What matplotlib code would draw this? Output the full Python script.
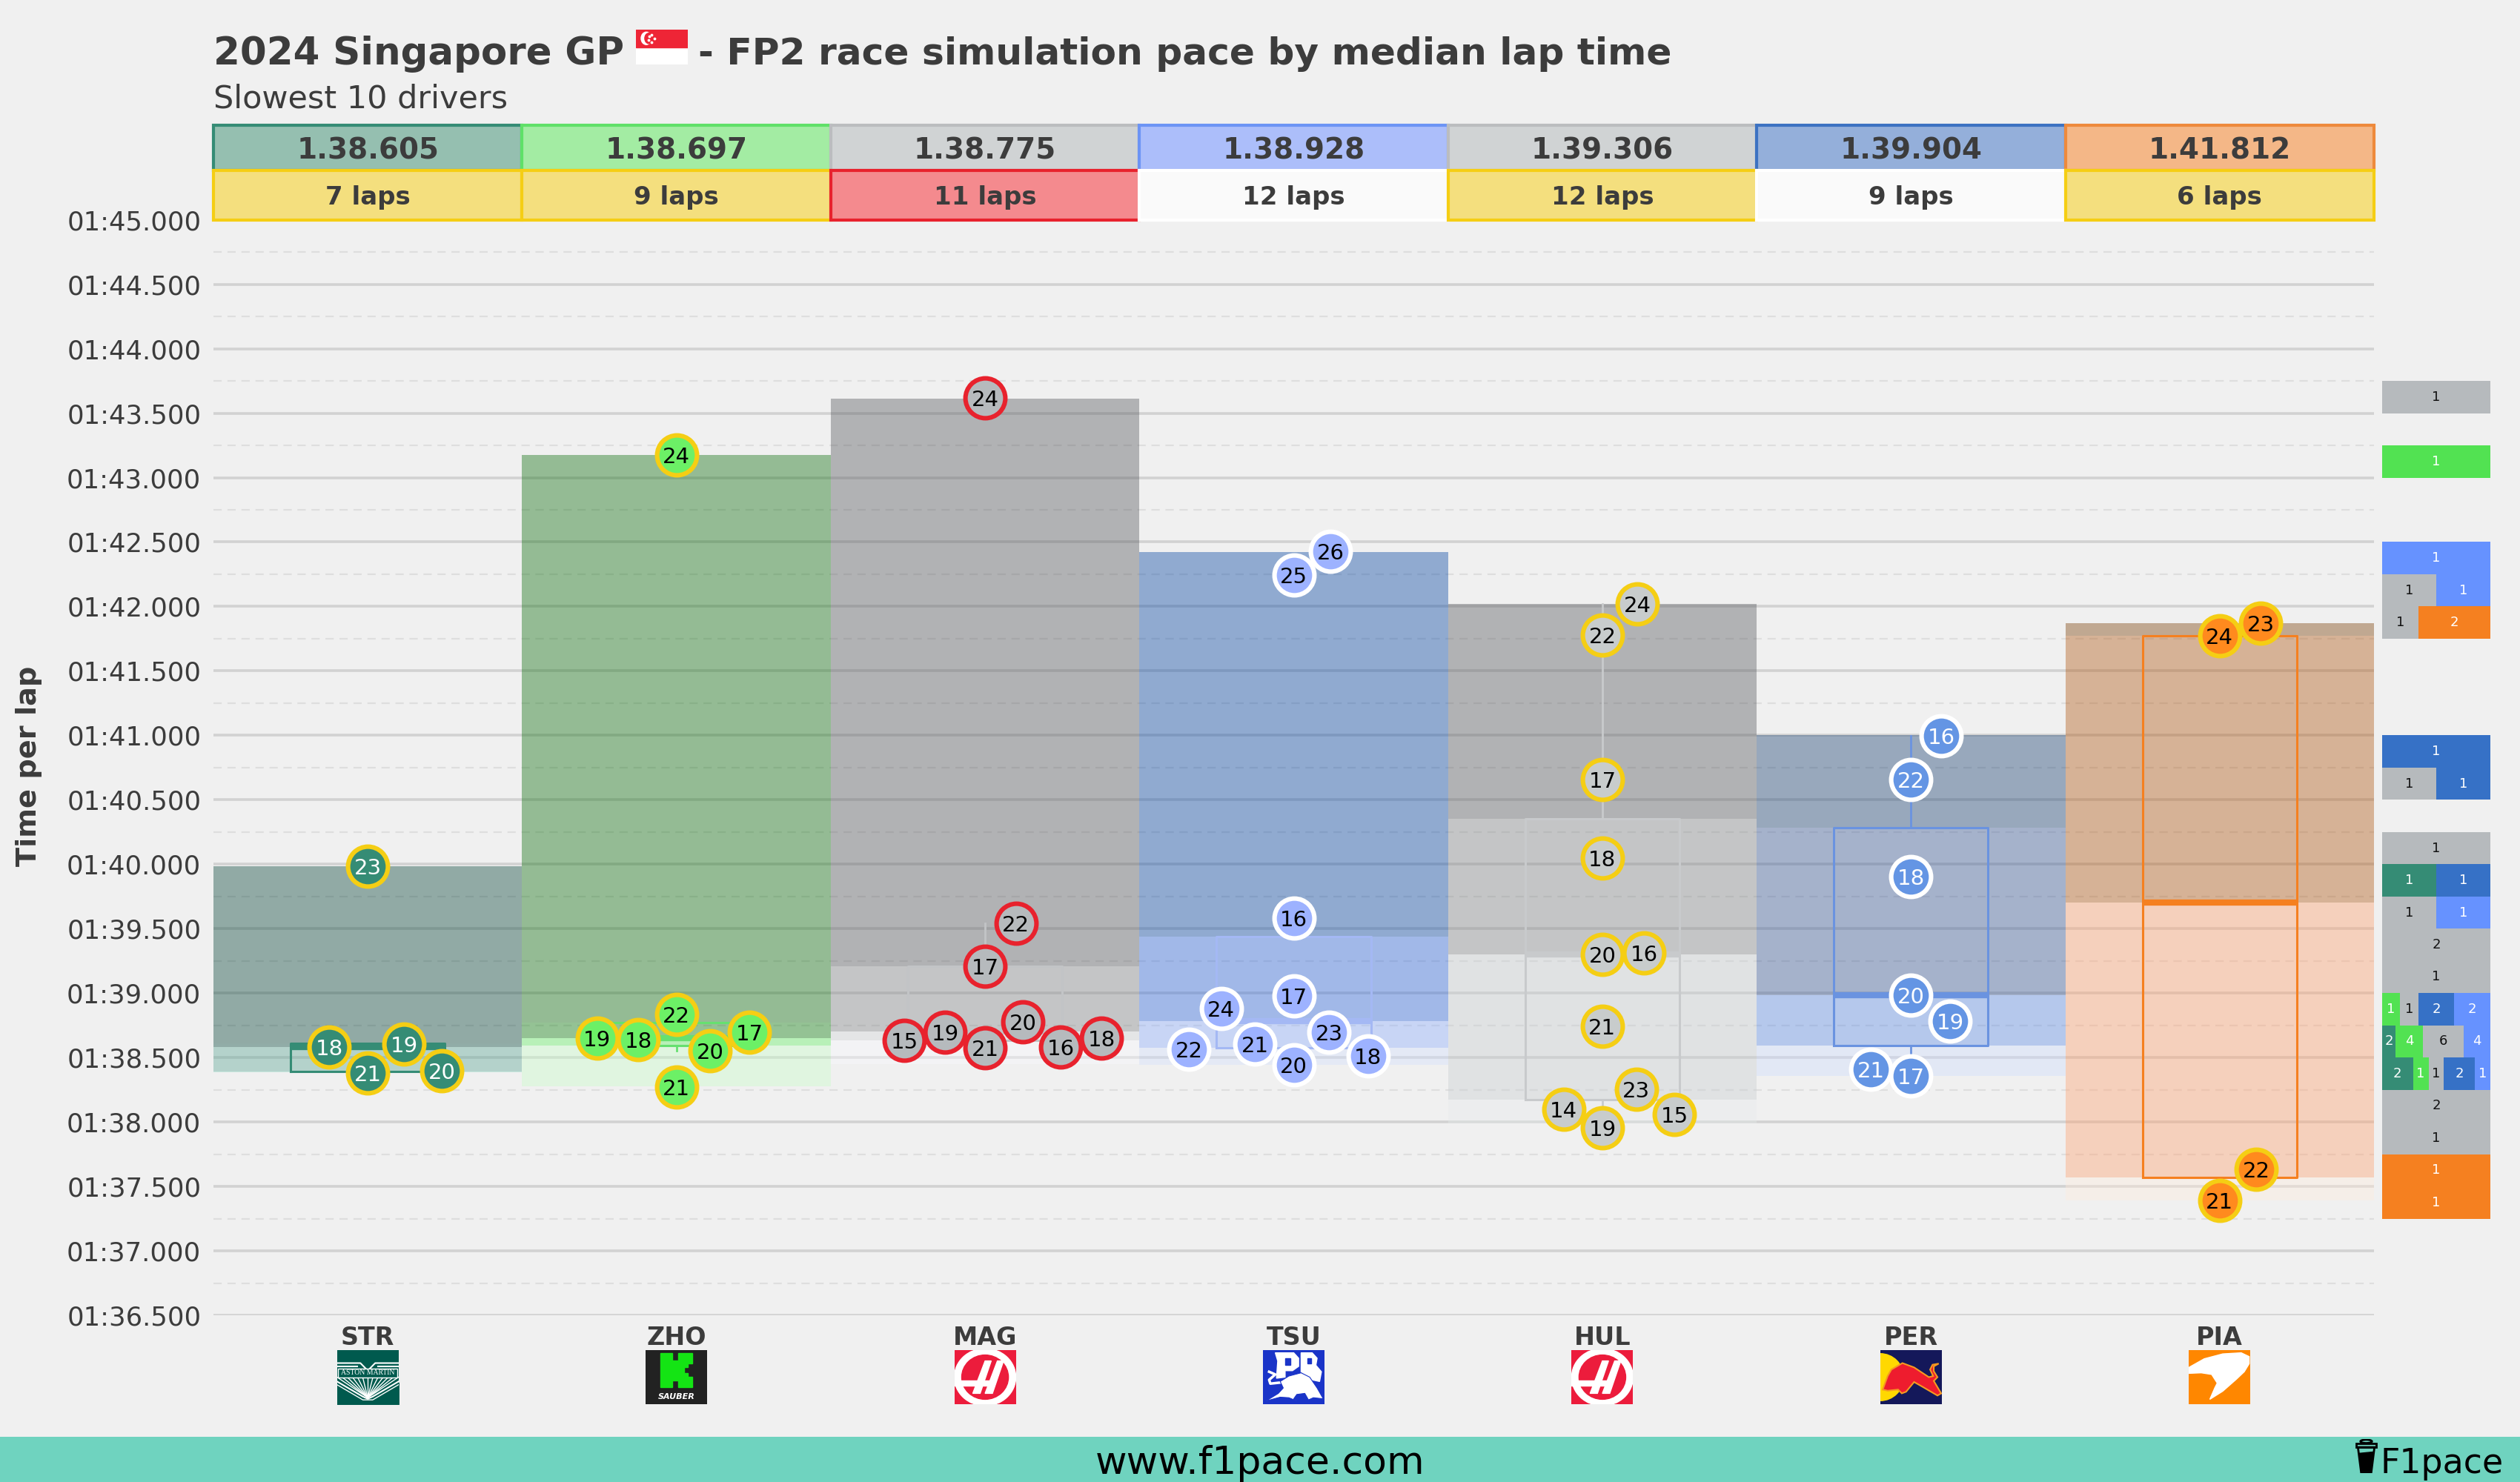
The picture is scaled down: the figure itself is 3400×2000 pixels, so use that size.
import matplotlib
matplotlib.use('Agg')
import matplotlib.pyplot as plt
import numpy as np
from matplotlib.patches import Ellipse, Polygon, Rectangle

drivers = ['STR', 'ZHO', 'MAG', 'TSU', 'HUL', 'PER', 'PIA']
teams = ['aston', 'sauber', 'haas', 'rb', 'haas', 'redbull', 'mclaren']
median_labels = ['1.38.605', '1.38.697', '1.38.775', '1.38.928', '1.39.306', '1.39.904', '1.41.812']
lap_counts = [7, 9, 11, 12, 12, 9, 6]
tyres = ['medium', 'medium', 'soft', 'hard', 'medium', 'hard', 'medium']

# lap number, lap time and swarm offset of every point per driver
lap_numbers = [
    [18, 19, 20, 21, 23],
    [17, 18, 19, 20, 21, 22, 24],
    [15, 16, 17, 18, 19, 20, 21, 22, 24],
    [16, 17, 18, 20, 21, 22, 23, 24, 25, 26],
    [14, 15, 16, 17, 18, 19, 20, 21, 22, 23, 24],
    [16, 17, 18, 19, 20, 21, 22],
    [21, 22, 23, 24],
]
lap_times = [
    [98.579, 98.605, 98.397, 98.383, 99.985],
    [98.698, 98.637, 98.649, 98.555, 98.272, 98.835, 103.178],
    [98.635, 98.579, 99.21, 98.65, 98.698, 98.777, 98.575, 99.543, 103.62],
    [99.583, 98.978, 98.514, 98.442, 98.603, 98.567, 98.696, 98.879, 102.244, 102.43],
    [98.10, 98.058, 99.313, 100.66, 100.047, 97.956, 99.301, 98.744, 101.78, 98.252, 102.018],
    [100.996, 98.357, 99.906, 98.785, 98.986, 98.407, 100.66],
    [97.394, 97.63, 101.87, 101.77],
]
lap_offsets = [
    [-0.125, 0.118, 0.24, 0, 0],
    [0.237, -0.123, -0.257, 0.11, 0, 0, 0],
    [-0.261, 0.245, 0, 0.378, -0.13, 0.123, 0, 0.10, 0],
    [0, 0, 0.241, 0, -0.125, -0.34, 0.115, -0.235, 0, 0.119],
    [-0.125, 0.233, 0.135, 0, 0, 0, 0, 0, 0, 0.11, 0.114],
    [0.098, 0, 0, 0.127, 0, -0.13, 0],
    [0, 0.119, 0.133, 0],
]

range_high = [99.985, 103.178, 103.614, 102.42, 102.02, 101.0, 101.87]
q3 = [98.609, 98.77, 99.21, 99.436, 100.354, 100.283, 101.77]
box_median = [98.58, 98.649, 98.70, 98.785, 99.299, 98.986, 99.70]
q1 = [98.393, 98.595, 98.633, 98.575, 98.175, 98.595, 97.57]
range_low = [98.385, 98.274, 98.448, 98.442, 97.99, 98.357, 97.39]
whisker_high = [98.609, 98.835, 99.543, 99.583, 102.018, 100.996, 101.87]
whisker_low = [98.383, 98.555, 98.575, 98.442, 97.956, 98.357, 97.394]

# histogram on the right: low edge of each 0.25s bin and laps per team
hist_bins = [103.5, 103.0, 102.25, 102.0, 101.75, 100.75, 100.5, 100.0, 99.75, 99.5,
             99.25, 99.0, 98.75, 98.5, 98.25, 98.0, 97.75, 97.5, 97.25]
hist_stacks = [
    [('haas', 1)],
    [('sauber', 1)],
    [('rb', 1)],
    [('haas', 1), ('rb', 1)],
    [('haas', 1), ('mclaren', 2)],
    [('redbull', 1)],
    [('haas', 1), ('redbull', 1)],
    [('haas', 1)],
    [('aston', 1), ('redbull', 1)],
    [('haas', 1), ('rb', 1)],
    [('haas', 2)],
    [('haas', 1)],
    [('sauber', 1), ('haas', 1), ('redbull', 2), ('rb', 2)],
    [('aston', 2), ('sauber', 4), ('haas', 6), ('rb', 4)],
    [('aston', 2), ('sauber', 1), ('haas', 1), ('redbull', 2), ('rb', 1)],
    [('haas', 2)],
    [('haas', 1)],
    [('mclaren', 1)],
    [('mclaren', 1)],
]

BG = '#F0F0F0'
TEXT = '#3C3C3C'
team_colors = {'aston': '#358C75', 'sauber': '#52E252', 'haas': '#B6BABD', 'rb': '#6692FF',
               'redbull': '#3671C6', 'mclaren': '#F58020'}
header_fill = ['#95BFB0', '#A3ECA3', '#D0D3D4', '#ACBEFA', '#D0D3D4', '#94AFDA', '#F4B787']
header_edge = ['#358C75', '#5FE068', '#BBBDBF', '#6C94F5', '#BBBDBF', '#3C72C2', '#EE8A3C']
tyre_fill = {'medium': '#F4DF7E', 'soft': '#F48A8E', 'hard': '#FAFAFA'}
tyre_edge = {'medium': '#F5CE14', 'soft': '#E8222D', 'hard': '#FFFFFF'}
point_fill = ['#358C75', '#6CF066', '#B6BABD', '#9DB2FF', '#C8CCCC', '#6495E4', '#FF8A1E']
point_text = ['white', 'black', 'black', 'black', 'black', 'white', 'black']
box_color = ['#358C75', '#66E070', '#C2C4C6', '#A4B8F4', '#C8CACC', '#6A93E0', '#F58020']
# colours the bands show over the background, from slowest band to fastest
band_colors = [
    [(145, 170, 165), (145, 172, 167), (180, 210, 203), (200, 230, 222)],
    [(148, 187, 148), (148, 194, 148), (184, 240, 184), (224, 245, 224)],
    [(177, 178, 180), (196, 197, 198), (228, 229, 230), (243, 244, 245)],
    [(143, 170, 208), (161, 184, 232), (200, 213, 245), (228, 233, 250)],
    [(177, 178, 180), (196, 197, 198), (224, 226, 227), (236, 237, 238)],
    [(152, 168, 188), (165, 178, 203), (181, 200, 236), (226, 232, 246)],
    [(192, 168, 145), (214, 178, 150), (246, 208, 188), (249, 238, 232)],
]


def band_rgba(rgb, alpha=0.4):
    # colour that gives rgb over the background at this alpha, so gridlines show through
    c = [min(max((v - (1 - alpha) * 240) / alpha / 255, 0), 1) for v in rgb]
    return (c[0], c[1], c[2], alpha)


def inset(x0, y0, x1, y1):
    a = fig.add_axes([x0 / 3400, 1 - y1 / 2000, (x1 - x0) / 3400, (y1 - y0) / 2000])
    a.set_xlim(0, 1)
    a.set_ylim(0, 1)
    a.axis('off')
    return a


def draw_logo(a, team):
    a.add_patch(Rectangle((0, 0), 1, 1, color={'aston': '#005A4E', 'sauber': '#222222', 'haas': '#EC1C3C',
                                                'rb': '#1A34C8', 'redbull': '#14185A', 'mclaren': '#FF8700'}[team]))
    if team == 'aston':
        a.plot([0, .38, .5, .62, 1], [.76, .76, .62, .76, .76], color='white', lw=1.5)
        a.plot([0, .33], [.7, .7], color='white', lw=1.5)
        a.plot([.67, 1], [.7, .7], color='white', lw=1.5)
        a.add_patch(Rectangle((.02, .5), .96, .16, facecolor='#005A4E', edgecolor='white', lw=1, zorder=3))
        a.text(.5, .58, 'ASTON MARTIN', color='white', fontsize=7, family='Liberation Serif', ha='center',
               va='center', zorder=4)
        for sx in np.linspace(0, 1, 13):
            a.plot([.5, sx], [.12, .5], color='white', lw=1)
        a.fill_between([0, .42, .58, 1], [0, 0, 0, 0], [.4, .1, .1, .4], color='#005A4E', zorder=2)
        a.plot([0, .42, .5, .58, 1], [.42, .14, .1, .14, .42], color='white', lw=1.5, zorder=3)
        a.plot([0, .42, .58, 1], [.36, .08, .08, .36], color='white', lw=1, zorder=3)
    elif team == 'sauber':
        a.add_patch(Polygon([(.245, .94), (.426, .94), (.426, .807), (.526, .807), (.526, .94), (.755, .94),
                             (.755, .748), (.687, .748), (.687, .688), (.627, .688), (.627, .578), (.687, .578),
                             (.687, .505), (.755, .505), (.755, .312), (.526, .312), (.526, .44), (.426, .44),
                             (.426, .312), (.245, .312)], color='#14E414'))
        a.text(.5, .14, 'SAUBER', color='white', fontsize=8, style='italic', fontweight='bold', ha='center',
               va='center')
    elif team == 'haas':
        a.add_patch(Ellipse((.5, .5), 1.0, 1.06, color='white'))
        a.add_patch(Ellipse((.5, .5), .76, .82, color='#EC1C3C'))
        a.add_patch(Polygon([(.3, .2), (.42, .2), (.6, .8), (.5, .8)], color='white'))
        a.add_patch(Polygon([(.5, .2), (.62, .2), (.8, .8), (.7, .8)], color='white'))
        a.add_patch(Rectangle((0, .34), .62, .1, color='white'))
    elif team == 'rb':
        a.add_patch(Polygon([(.2, .95), (.5, .95), (.58, .85), (.58, .7), (.48, .62), (.36, .62), (.36, .5),
                             (.22, .48), (.24, .8)], color='white'))
        a.add_patch(Polygon([(.36, .85), (.44, .85), (.44, .72), (.36, .72)], color='#1A34C8'))
        a.add_patch(Polygon([(.62, .95), (.8, .95), (.88, .85), (.86, .72), (.95, .6), (.92, .42), (.8, .45),
                             (.62, .6)], color='white'))
        a.add_patch(Polygon([(.72, .85), (.78, .85), (.78, .75), (.72, .75)], color='#1A34C8'))
        a.add_patch(Polygon([(.05, .06), (.25, .2), (.33, .3), (.28, .42), (.42, .52), (.62, .58), (.76, .5),
                             (.88, .3), (.98, .1), (.82, .12), (.74, .08), (.68, .2), (.55, .18), (.5, .1),
                             (.55, .06), (.42, .12), (.28, .13)], facecolor='white', edgecolor='#1A34C8',
                            lw=.8, zorder=3))
        a.plot([.1, .2, .1, .12, .28], [.6, .55, .45, .38, .4], color='white', lw=2.5)
    elif team == 'redbull':
        a.add_patch(Ellipse((0, .5), .76, .87, color='#FFD800'))
        a.add_patch(Polygon([(.04, .27), (.12, .52), (.18, .64), (.36, .76), (.55, .68), (.79, .5), (.86, .52),
                             (.81, .64), (.85, .73), (.95, .75), (.87, .7), (.87, .61), (.93, .5), (.87, .43),
                             (.99, .2), (.93, .16), (.69, .32), (.55, .41), (.42, .23), (.35, .2), (.29, .27),
                             (.12, .25)], facecolor='#EE1C2E', edgecolor='#F59A20', lw=1.5))
    else:
        a.add_patch(Polygon([(0, .68), (.25, .84), (.55, .93), (.85, .95), (.98, .88), (.98, .75), (.9, .6),
                             (.77, .46), (.55, .24), (.34, .09), (.42, .3), (.46, .39), (.37, .55), (.2, .58),
                             (0, .57)], color='white'))


fig = plt.figure(figsize=(34, 20), dpi=100, facecolor=BG)
ax = fig.add_axes([288 / 3400, 225 / 2000, 2915 / 3400, 1478.3 / 2000], facecolor=BG)
x = np.arange(len(drivers))

ax.set_xlim(-0.5, 6.5)
ax.set_ylim(96.5, 105)
for s in ax.spines.values():
    s.set_visible(False)
ax.set_axisbelow(True)
major = np.arange(96.5, 105.5, 0.5)
ax.set_yticks(major)
ax.set_yticklabels(['{:02d}:{:06.3f}'.format(int(v // 60), v % 60) for v in major], fontsize=25.5, color=TEXT)
ax.set_yticks(major[:-1] + 0.25, minor=True)
ax.grid(axis='y', which='major', color='#D2D2D2', lw=2.6)
ax.grid(axis='y', which='minor', color='#DEDEDE', lw=1.6, ls=(0, (5, 3.5)))
ax.tick_params(axis='both', which='both', length=0, pad=12)
ax.set_xticks(x)
ax.set_xticklabels(drivers, fontsize=24, fontweight='bold', color=TEXT)
ax.tick_params(axis='x', pad=10)
fig.text(39 / 3400, 1 - 1034 / 2000, 'Time per lap', rotation=90, fontsize=27.5, fontweight='bold', color=TEXT,
         ha='center', va='center')

# background bands between the box statistics
edges = np.array([range_high, q3, box_median, q1, range_low])
for i in range(4):
    ax.bar(x, edges[i] - edges[i + 1], bottom=edges[i + 1], width=1,
           color=[band_rgba(band_colors[d][i]) for d in x], zorder=2)

for d in x:
    stats = [dict(med=box_median[d], q1=q1[d], q3=q3[d], whislo=whisker_low[d], whishi=whisker_high[d])]
    ax.bxp(stats, positions=[d], widths=0.5, showcaps=False, showfliers=False, manage_ticks=False, zorder=3,
           boxprops=dict(color=box_color[d], lw=2.2),
           whiskerprops=dict(color=box_color[d], lw=2),
           medianprops=dict(color=box_color[d], lw=6))

for d in x:
    order = 10
    for lap, t, off in zip(lap_numbers[d], lap_times[d], lap_offsets[d]):
        ax.scatter(d + off, t, s=1500, color=point_fill[d], edgecolor=tyre_edge[tyres[d]], linewidth=4.4,
                   zorder=order)
        ax.text(d + off, t, str(lap), color=point_text[d], fontsize=21, ha='center', va='center_baseline',
                zorder=order + 1)
        order += 2

# two header rows above the plot
row2_top = 105 + 67 / 173.9
row1_top = row2_top + 61 / 173.9
for d in x:
    ax.add_patch(Rectangle((d - 0.5, row2_top), 1, row1_top - row2_top, facecolor=header_fill[d],
                           edgecolor=header_edge[d], lw=3, clip_on=False, zorder=5))
    ax.text(d, (row2_top + row1_top) / 2, median_labels[d], fontsize=28, fontweight='bold', color=TEXT,
            ha='center', va='center_baseline', clip_on=False, zorder=6)
for d in x:
    ax.add_patch(Rectangle((d - 0.5, 105), 1, row2_top - 105, facecolor=tyre_fill[tyres[d]],
                           edgecolor=tyre_edge[tyres[d]], lw=3, clip_on=False, zorder=7))
    ax.text(d, (105 + row2_top) / 2, '{} laps'.format(lap_counts[d]), fontsize=24.5, fontweight='bold', color=TEXT,
            ha='center', va='center_baseline', clip_on=False, zorder=8)

# lap time histogram on the right
hx = fig.add_axes([3214 / 3400, 225 / 2000, 146 / 3400, 1478.3 / 2000])
hx.set_xlim(0, 1)
hx.set_ylim(96.5, 105)
hx.axis('off')
for low, stack in zip(hist_bins, hist_stacks):
    total = sum(c for _, c in stack)
    left = 0
    for team, count in stack:
        w = count / total
        hx.barh(low, w, height=0.25, left=left, align='edge', color=team_colors[team], lw=0)
        hx.text(left + w / 2, low + 0.125, str(count), fontsize=13, ha='center', va='center',
                color='#111111' if team == 'haas' else 'white')
        left += w

# title with the flag between its two parts
fig.text(288 / 3400, 1 - 68 / 2000, '2024 Singapore GP', fontsize=37, fontweight='bold', color=TEXT,
         ha='left', va='center_baseline')
fig.text(942 / 3400, 1 - 68 / 2000, '- FP2 race simulation pace by median lap time', fontsize=36.2,
         fontweight='bold', color=TEXT, ha='left', va='center_baseline')
fig.text(288 / 3400, 1 - 129 / 2000, 'Slowest 10 drivers', fontsize=31, color=TEXT, ha='left',
         va='center_baseline')
flag = inset(858, 40, 928, 87)
flag.add_patch(Rectangle((0, 0), 1, .5, color='white'))
flag.add_patch(Rectangle((0, .5), 1, .5, color='#EE2536'))
flag.add_patch(Ellipse((.2, .75), .2, .36, color='white'))
flag.add_patch(Ellipse((.25, .75), .16, .3, color='#EE2536'))
flag.scatter([.3, .36, .3, .24, .26], [.86, .75, .64, .7, .8], s=3, color='white')

for d in x:
    cx = 288 + 2915 / 7 * (d + 0.5)
    draw_logo(inset(cx - 41.5, 1822, cx + 41.5, 1895), teams[d])

# footer
fig.add_artist(Rectangle((0, 0), 1, 61 / 2000, transform=fig.transFigure, color='#6FD3BF', lw=0, zorder=-1))
fig.text(1700 / 3400, 1 - 1970 / 2000, 'www.f1pace.com', fontsize=37.5, color='black', ha='center',
         va='center_baseline')
fig.text(3211 / 3400, 1 - 1970 / 2000, 'F1pace', fontsize=33, color='black', ha='left', va='center_baseline')
cup = inset(3177, 1942, 3208, 1988)
cup.add_patch(Rectangle((.08, .76), .84, .12, facecolor='none', edgecolor='black', lw=2))
cup.add_patch(Ellipse((.5, .93), .5, .1, facecolor='none', edgecolor='black', lw=2))
cup.add_patch(Polygon([(.14, .76), (.86, .76), (.72, .02), (.28, .02)], facecolor='none', edgecolor='black', lw=2))
cup.add_patch(Polygon([(.2, .58), (.8, .62), (.7, .06), (.3, .06)], color='black'))

fig.savefig('out.png', dpi=100, facecolor=BG)
